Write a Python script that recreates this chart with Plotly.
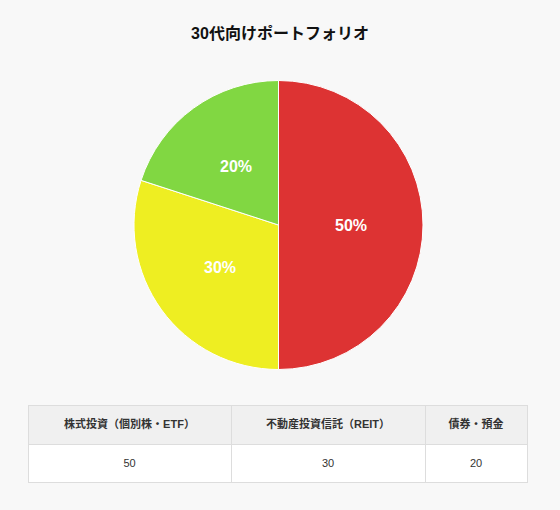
import math
import plotly.graph_objects as go

categories = ["株式投資（個別株・ETF）", "不動産投資信託（REIT）", "債券・預金"]
values = [50, 30, 20]
colors = ["#dd3333", "#eeee22", "#81d742"]

W, H = 560, 510
FONT = "Liberation Sans, Arial, Noto Sans CJK JP, sans-serif"

# pie placement (pixels from top-left)
PX0, PX1, PY0, PY1 = 134, 423, 80, 370

fig = go.Figure()
fig.add_trace(go.Pie(
    labels=categories,
    values=values,
    sort=False,
    direction="clockwise",
    rotation=0,
    marker=dict(colors=colors, line=dict(color="#ffffff", width=1)),
    textinfo="none",
    hoverinfo="label+value+percent",
    showlegend=False,
    domain=dict(x=[PX0 / W, PX1 / W], y=[1 - PY1 / H, 1 - PY0 / H]),
))

# percentage labels at the middle of each arc (half radius), computed from the data
cx, cy = (PX0 + PX1) / 2, (PY0 + PY1) / 2
r = min(PX1 - PX0, PY1 - PY0) / 2
total = sum(values)
acc = 0
for v in values:
    mid = (acc + v / 2) / total * 2 * math.pi
    acc += v
    x = cx + math.sin(mid) * r * 0.5
    y = cy - math.cos(mid) * r * 0.5
    fig.add_annotation(
        x=x / W, y=1 - y / H, xref="paper", yref="paper",
        text=f"<b>{round(v / total * 100)}%</b>", showarrow=False,
        font=dict(color="#ffffff", size=16, family=FONT),
        xanchor="center", yanchor="middle",
    )

fig.add_trace(go.Table(
    columnwidth=[203, 194, 102],
    header=dict(
        values=[f"&nbsp;<br><span style='font-size:11px'><b>{c}</b></span>" for c in categories],
        fill_color="#f0f0f0",
        line_color="#dddddd",
        align="center",
        height=39,
        font=dict(size=6.8, color="#333333", family=FONT),
    ),
    cells=dict(
        values=[[f"&nbsp;<br><span style='font-size:11px'>{v}</span>"] for v in values],
        fill_color="#ffffff",
        line_color="#dddddd",
        align="center",
        height=38,
        font=dict(size=6.6, color="#333333", family=FONT),
    ),
    domain=dict(x=[28 / W, 528 / W], y=[0.0, 1 - 405 / H]),
))

fig.update_layout(
    width=W, height=H,
    margin=dict(l=0, r=0, t=0, b=0),
    paper_bgcolor="#f8f8f8",
    plot_bgcolor="#f8f8f8",
    title=dict(text="<b>30代向けポートフォリオ</b>", x=0.5, xanchor="center",
               y=1 - 33 / H, yanchor="middle",
               font=dict(size=16, color="#111111", family=FONT)),
    font=dict(family=FONT),
)

fig.write_html(
    "out.html",
    config={"displayModeBar": False},
    post_script="document.body.style.margin='0';document.body.style.background='#f8f8f8';",
)
